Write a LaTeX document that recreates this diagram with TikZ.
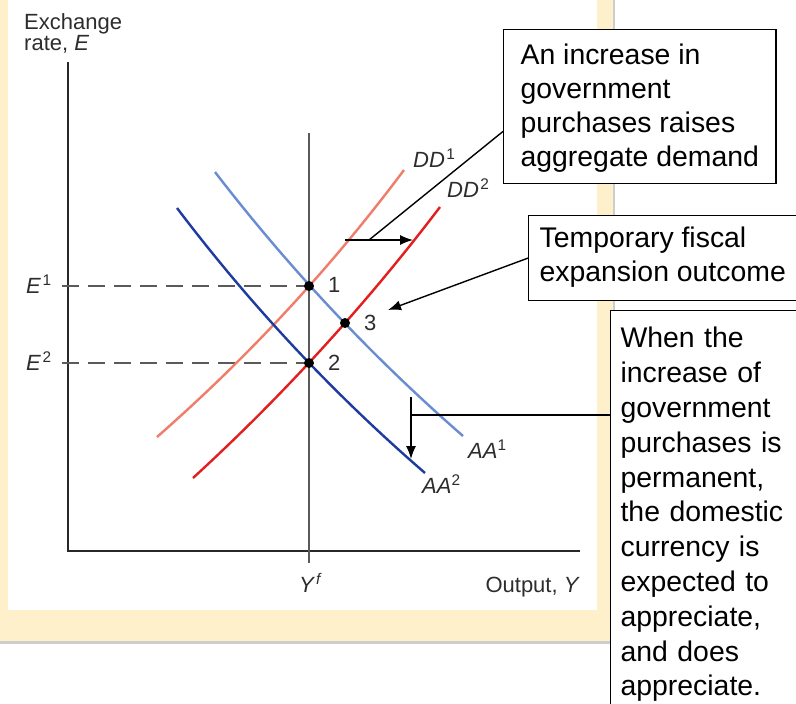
\documentclass[tikz,border=0pt]{standalone}
\usepackage{fontspec}
\setmainfont{Liberation Sans}
\usetikzlibrary{arrows.meta,calc}
\definecolor{cream}{RGB}{253,240,202}
\definecolor{shadowgray}{RGB}{205,205,205}
\definecolor{axisgray}{RGB}{40,40,40}
\definecolor{guidegray}{RGB}{90,90,90}
\definecolor{labelgray}{RGB}{45,45,45}
\definecolor{aaone}{RGB}{105,140,210}
\definecolor{aatwo}{RGB}{30,60,160}
\definecolor{ddone}{RGB}{240,125,105}
\definecolor{ddtwo}{RGB}{228,30,30}
\newcommand{\bxfont}{\fontsize{28.4}{34}\selectfont}
\newcommand{\bxfontb}{\fontsize{28.4}{34.8}\selectfont}
\newcommand{\lblfont}{\fontsize{22}{21}\selectfont}
\tikzset{
  panelbox/.style={draw=black, line width=1.2pt, fill=white, align=left,
    inner ysep=0pt, anchor=north west, font=\bxfont},
  chartlbl/.style={font=\lblfont, text=labelgray, inner sep=0pt},
  axisline/.style={line width=2.5pt, draw=axisgray},
  guideline/.style={line width=1.5pt, draw=guidegray},
  dashguide/.style={line width=1.5pt, draw=guidegray, dash pattern=on 17pt off 9pt},
  curve/.style={line width=2.4pt},
  eqdot/.style={circle, fill=black, inner sep=0pt, minimum size=10pt},
  leader/.style={line width=1.4pt, draw=black},
  arr/.style={line width=1.4pt, draw=black, -{Latex[length=13pt,width=10pt]}}
}
\begin{document}
\begin{tikzpicture}[x=1pt,y=-1pt]
\useasboundingbox (0,0) rectangle (796,704);
% panel background
\fill[shadowgray] (0,0) rectangle (615,644);
\fill[cream] (0,0) rectangle (613,641);
\fill[white] (8,0) rectangle (597,610);

% axes
\draw[axisline] (68,62) -- (68,551) -- (580,551);
% guides
\draw[guideline] (309,133) -- (309,563);
\draw[dashguide] (62,286) -- (309,286);
\draw[dashguide] (62,363) -- (309,363);

% curves
\draw[curve, draw=ddone] (157,437) .. controls (248.6,356.6) and (331,267.6) .. (404,170);
\draw[curve, draw=ddtwo] (193,478) .. controls (283.4,395.1) and (365.8,304.7) .. (440,207);
\draw[curve, draw=aaone] (215,172) .. controls (289,268.2) and (371.5,356.2) .. (463,436);
\draw[curve, draw=aatwo] (177,208) .. controls (250.4,305) and (333,393.4) .. (425,473);

% equilibrium points
\node[eqdot] (p1) at (309,286) {};
\node[eqdot] (p2) at (309,363) {};
\node[eqdot] (p3) at (345,323) {};

% chart labels
\node[chartlbl, anchor=north west, align=left] (ylab) at (24,13) {Exchange\\rate, \textit{E}};
\node[chartlbl, anchor=base east] (xlab) at (580,592) {Output, \textit{Y}};
\node[chartlbl, anchor=base west] (yf) at (299,592) {\textit{Y}\kern1pt\textsuperscript{\textit{f}}};
\node[chartlbl, anchor=base west] (e1) at (26,293) {\textit{E}\kern1.5pt\textsuperscript{1}};
\node[chartlbl, anchor=base west] (e2) at (26,370) {\textit{E}\kern1.5pt\textsuperscript{2}};
\node[chartlbl, anchor=base west] (n1) at (328,292) {1};
\node[chartlbl, anchor=base west] (n2) at (328,370) {2};
\node[chartlbl, anchor=base west] (n3) at (364,330) {3};
\node[chartlbl, anchor=base west] (ldd1) at (413,167) {\textit{DD}\kern1.5pt\textsuperscript{1}};
\node[chartlbl, anchor=base west] (ldd2) at (447,197) {\textit{DD}\kern1.5pt\textsuperscript{2}};
\node[chartlbl, anchor=base west] (laa1) at (468,458) {\textit{AA}\textsuperscript{1}};
\node[chartlbl, anchor=base west] (laa2) at (422,493) {\textit{AA}\textsuperscript{2}};

% annotation boxes
\node[panelbox, inner xsep=17pt, minimum height=154pt] (b1) at (503,29)
  {\rule{0pt}{27pt}An increase in\\government\\purchases raises\\aggregate demand\strut};
\node[panelbox, inner xsep=11pt, minimum height=85pt] (b2) at (528,215)
  {\strut Temporary fiscal\\expansion outcome\strut};
\node[panelbox, font=\bxfontb, inner xsep=10pt, inner ysep=13pt, text width=178pt] (b3) at (610,310)
  {\strut When the\\increase of\\government\\purchases is\\permanent,\\the domestic\\currency is\\expected to\\appreciate,\\and does\\appreciate.\strut};

% connectors
\coordinate (j1) at (369,240);
\coordinate (s1) at (345,240);
\coordinate (f1) at (413,240);
\draw[leader] ($(b1.north west)!0.66!(b1.south west)$) -- (j1);
\draw[arr] (s1) -- (f1);

\coordinate (t2) at (388,310);
\draw[arr] (b2.west) -- (t2);

\coordinate (h3) at (411,415);
\coordinate (v3a) at (411,397);
\coordinate (v3b) at (411,459);
\draw[leader] (b3.west |- h3) -- (h3);
\draw[arr] (v3a) -- (v3b);
\end{tikzpicture}
\end{document}
